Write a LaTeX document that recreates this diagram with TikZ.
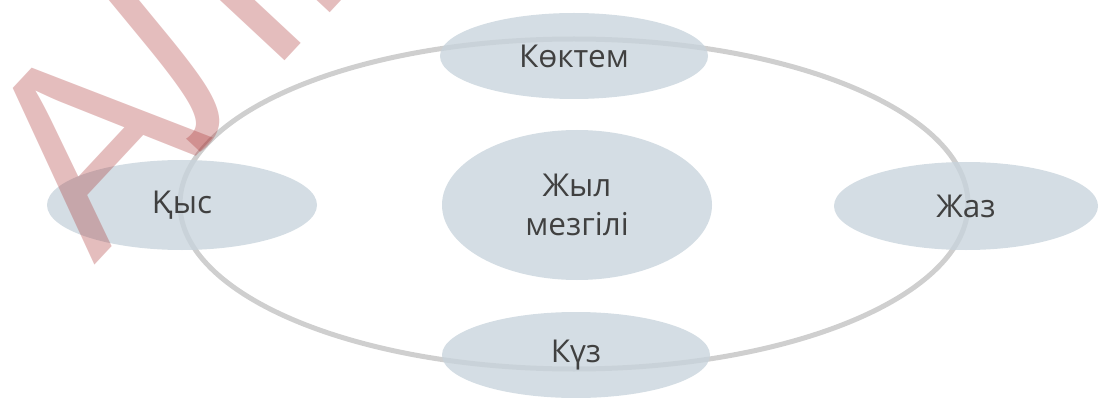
\documentclass[tikz,border=0pt]{standalone}
\usepackage{fontspec}
\setmainfont{Open Sans}
\newfontfamily\wmfont{Liberation Sans}
\usetikzlibrary{shapes.geometric}
\definecolor{ringgray}{RGB}{207,207,207}
\definecolor{bubble}{RGB}{200,212,220}
\definecolor{labeltext}{RGB}{64,64,64}
\definecolor{wmred}{RGB}{170,50,50}
\tikzset{
  season/.style={ellipse, fill=bubble, fill opacity=0.78, text opacity=1, text=labeltext,
    inner sep=0pt, font=\fontsize{31.5}{39}\selectfont, align=center},
  ring/.style={draw=ringgray, line width=5pt},
}
\begin{document}
\begin{tikzpicture}[x=1pt,y=-1pt]
\useasboundingbox (0,0) rectangle (1099,398);
\clip (0,0) rectangle (1099,398);
\draw[ring] (574,204) ellipse [x radius=394, y radius=165];
\node[season, minimum width=268, minimum height=86] (spring) at (574,56) {Көктем};
\node[season, minimum width=270, minimum height=90] (winter) at (182,205) {Қыс};
\node[season, minimum width=264, minimum height=88] (summer) at (966,206) {Жаз};
\node[season, minimum width=268, minimum height=86] (autumn) at (576,355) {Күз};
\node[season, minimum width=270, minimum height=150] (year) at (577,205) {Жыл\\мезгілі};
\node[anchor=base west, rotate=47, inner sep=0pt, text=wmred, text opacity=0.32,
  font=\wmfont\fontsize{262}{262}\selectfont] (mark) at (94,266) {А\kern-22ptЛМАТЫКІТАП};
\end{tikzpicture}
\end{document}
